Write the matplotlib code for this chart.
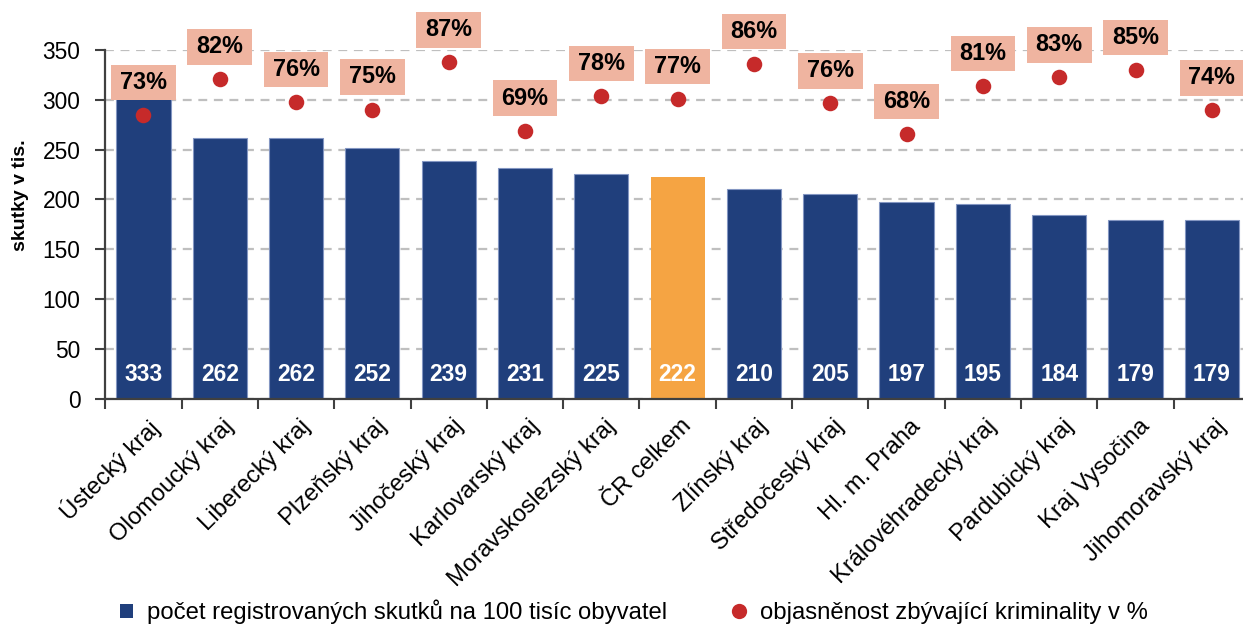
import matplotlib
matplotlib.use("Agg")
import matplotlib.pyplot as plt
from matplotlib.path import Path
from matplotlib.lines import Line2D
from matplotlib.patches import Patch
from matplotlib.transforms import ScaledTranslation
import numpy as np

plt.rcParams['font.family'] = ['Liberation Sans', 'DejaVu Sans']

categories = ["Ústecký kraj", "Olomoucký kraj", "Liberecký kraj", "Plzeňský kraj",
              "Jihočeský kraj", "Karlovarský kraj", "Moravskoslezský kraj", "ČR celkem",
              "Zlínský kraj", "Středočeský kraj", "Hl. m. Praha", "Královéhradecký kraj",
              "Pardubický kraj", "Kraj Vysočina", "Jihomoravský kraj"]
skutky = [333, 262, 262, 252, 239, 231, 225, 222, 210, 205, 197, 195, 184, 179, 179]
objasnenost = [73.2, 82.4, 76.5, 74.6, 86.8, 69.1, 78.1, 77.3, 86.4, 76.2, 68.3, 80.7, 82.9, 84.8, 74.4]
highlight = "ČR celkem"

NAVY = "#203F7C"
ORANGE = "#F5A443"
RED = "#C62A2A"
SALMON = "#EFB4A0"
GRID = "#BFBFBF"
SPINE = "#404040"

W, H = 1243, 625
fig = plt.figure(figsize=(W / 100, H / 100), dpi=100)
left, right, top, bottom = 105.3, 1250, 50, 398.5
ax = fig.add_axes([left / W, 1 - bottom / H, (right - left) / W, (bottom - top) / H])

x = np.arange(len(categories))
colors = [ORANGE if c == highlight else NAVY for c in categories]
edges = ["none" if c == highlight else "#8396C2" for c in categories]
bars = ax.bar(x, skutky, width=0.71, color=colors, edgecolor=edges, linewidth=0.8, zorder=2)

ax.set_ylim(0, 350)
ax.set_xlim(-0.5, len(categories) - 0.5)
ax.set_yticks(np.arange(0, 351, 50))
ax.tick_params(axis='y', labelsize=16.4, length=7, width=1.5, color=SPINE, pad=11)
ax.yaxis.grid(True, color=GRID, linestyle=(0, (4, 3)), linewidth=1.6)
ax.set_axisbelow(True)

ax.set_xticks(x)
ax.set_xticklabels(categories, rotation=45, ha='right', va='top', rotation_mode='anchor', fontsize=17.1)
ax.tick_params(axis='x', which='major', length=0, pad=12)
shift = ScaledTranslation(3 / 100, 0, fig.dpi_scale_trans)
for lab in ax.get_xticklabels():
    lab.set_transform(lab.get_transform() + shift)
ax.set_xticks(np.arange(-0.5, len(categories), 1), minor=True)
ax.tick_params(axis='x', which='minor', length=7, width=1.5, color=SPINE)

for s in ['top', 'right']:
    ax.spines[s].set_visible(False)
for s in ['left', 'bottom']:
    ax.spines[s].set_color(SPINE)
    ax.spines[s].set_linewidth(1.6)

ax.set_ylabel("skutky v tis.", fontsize=14, fontweight='bold')
ax.yaxis.set_label_coords(-0.0667, 0.584)

for xi, v in zip(x, skutky):
    ax.annotate(f"{v}", xy=(xi, 0), xytext=(0, 17.6), textcoords='offset points',
                ha='center', va='center', color='white', fontsize=16.4, fontweight='bold', zorder=3)

ax2 = ax.twinx()
ax2.set_ylim(0, 90)
ax2.axis('off')
ax2.scatter(x, objasnenost, s=125, color=RED, zorder=3, linewidths=0)


def wide_box(x0, y0, width, height, mutation_size):
    px = 0.38 * mutation_size
    py = 0.27 * mutation_size
    xa, ya, xb, yb = x0 - px, y0 - py, x0 + width + px, y0 + height + py
    return Path([(xa, ya), (xb, ya), (xb, yb), (xa, yb), (xa, ya)], closed=True)


for xi, v in zip(x, objasnenost):
    ax2.annotate(f"{v:.0f}%", xy=(xi, v), xytext=(0, 23.5), textcoords='offset points',
                 ha='center', va='center', fontsize=16.8, fontweight='bold', color='black',
                 bbox=dict(boxstyle=wide_box, facecolor=SALMON, edgecolor='none'), zorder=4,
                 annotation_clip=False)

handles = [Patch(facecolor=NAVY, edgecolor='none'),
           Line2D([], [], marker='o', linestyle='none', markersize=11, color=RED, markeredgewidth=0)]
labels = ["počet registrovaných skutků na 100 tisíc obyvatel", "objasněnost zbývající kriminality v %"]
fig.legend(handles, labels, loc='lower left', bbox_to_anchor=(110 / W, -0.014), ncol=2,
           frameon=False, fontsize=17.2, handlelength=0.55, handleheight=0.55,
           handletextpad=0.6, columnspacing=2.75, borderaxespad=0)

fig.savefig("out.png", dpi=100)
